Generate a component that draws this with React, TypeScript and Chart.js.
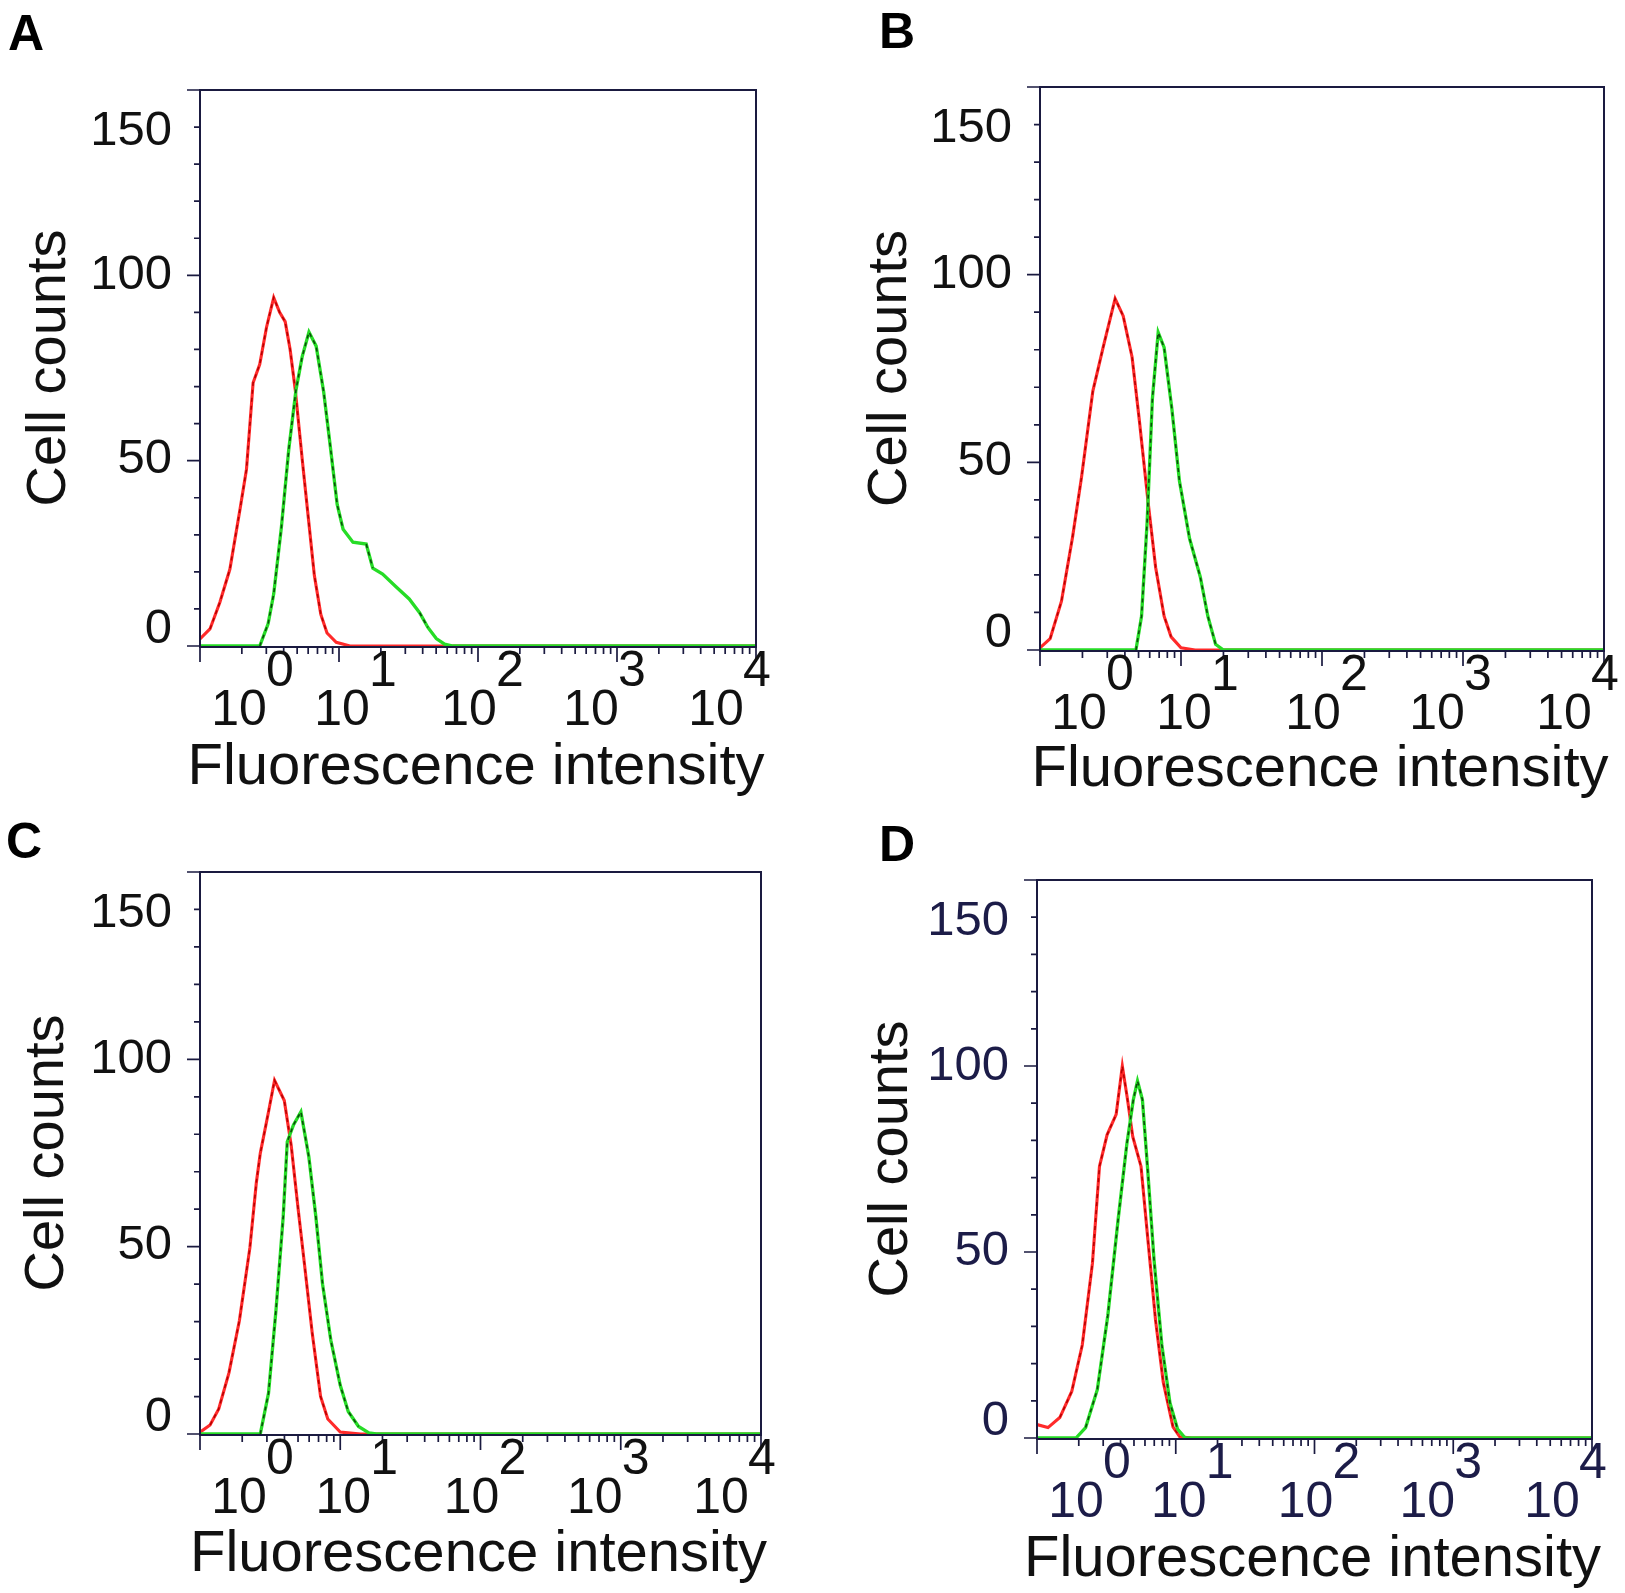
import React, { useEffect, useRef } from "react";
import { Chart, registerables } from "chart.js";

Chart.register(...registerables);

const FONT = "'Liberation Sans', Arial, Helvetica, sans-serif";

// ---------- axes ----------
const X_MIN = 1;
const X_MAX = 10000;
const X_DECADES = [1, 10, 100, 1000, 10000];
const X_EXPONENTS = ["0", "1", "2", "3", "4"];
const X_BASE = "10";
const X_MULTIPLIERS = [1, 2, 3, 4, 5, 6, 7, 8, 9];
const Y_MAX = 150;
const Y_STEP = 10;
const Y_LABELS = [0, 50, 100, 150];
const X_TITLE = "Fluorescence intensity";
const Y_TITLE = "Cell counts";

// ---------- data (fluorescence intensity, cell counts) ----------
const A_RED_X = [1, 1.18, 1.39, 1.64, 1.94, 2.16, 2.41, 2.69, 3.01, 3.39, 3.74, 4.1, 4.45, 4.85, 5.45, 6.0, 6.65, 7.4, 8.2, 9.55, 12, 10000];
const A_RED_Y = [1.9, 4.6, 11.8, 20.7, 36.9, 47.7, 71, 76, 86, 94, 90, 87.5, 80, 69, 50, 35, 19, 8.5, 3.5, 1, 0, 0];
const A_GREEN_X = [1, 2.69, 3.09, 3.39, 3.85, 4.35, 4.9, 5.43, 6.08, 6.85, 7.76, 8.63, 9.7, 10.7, 12.6, 15.7, 17.5, 20.6, 25.7, 32, 38, 43.6, 50.1, 57.5, 66, 10000];
const A_GREEN_Y = [0, 0, 6, 14, 32, 53, 69, 78, 84.7, 80.9, 68.5, 54.3, 38.2, 31.5, 28, 27.5, 21, 19.4, 16, 12.7, 9, 5, 2, 0.5, 0, 0];

const B_RED_X = [1, 1.18, 1.42, 1.7, 1.97, 2.37, 2.82, 3.41, 3.89, 4.5, 5.07, 5.82, 6.61, 7.59, 8.51, 10, 12.6, 10000];
const B_RED_Y = [0.6, 3, 13, 30, 46, 69, 81, 93.6, 89, 78, 61, 40, 22, 9, 3.5, 0.6, 0, 0];
const B_GREEN_X = [1, 4.79, 5.25, 5.75, 6.27, 6.89, 7.59, 8.63, 9.75, 11.5, 13.7, 15.5, 17.6, 20, 10000];
const B_GREEN_Y = [0, 0, 9, 34, 67, 84.6, 80.6, 64, 45, 29.7, 19.5, 9, 1.5, 0, 0];

const C_RED_X = [1, 1.18, 1.36, 1.61, 1.91, 2.27, 2.52, 2.69, 3.08, 3.4, 3.99, 4.47, 5.01, 5.57, 6.31, 7.24, 8.15, 10, 14, 10000];
const C_RED_Y = [0.5, 2.4, 6.7, 16.4, 30.3, 49.8, 67, 74.9, 86, 94.4, 89, 77, 60, 45, 27, 10, 4, 0.5, 0, 0];
const C_GREEN_X = [1, 2.69, 3.08, 3.48, 3.92, 4.19, 4.64, 5.24, 5.97, 6.7, 7.48, 8.57, 10, 11.4, 13.5, 16, 18, 10000];
const C_GREEN_Y = [0, 0, 10.9, 33, 58, 78, 82.5, 86, 74, 58, 40, 25, 13, 6, 2, 0.3, 0, 0];

const D_RED_X = [1, 1.2, 1.46, 1.78, 2.12, 2.51, 2.82, 3.2, 3.72, 4.12, 4.47, 4.9, 5.62, 6.31, 7.16, 8.13, 9.55, 10.7, 13, 10000];
const D_RED_Y = [3.6, 2.8, 5.5, 12.5, 25, 47, 73, 81.5, 87, 100, 91.5, 81, 73, 53, 31.5, 15, 3, 0.3, 0, 0];
const D_GREEN_X = [1, 1.91, 2.24, 2.72, 3.24, 3.85, 4.44, 4.95, 5.3, 5.75, 6.28, 6.97, 7.94, 9.08, 10.3, 11.7, 10000];
const D_GREEN_Y = [0, 0, 2.8, 13, 33, 59, 79, 91, 96, 91, 72, 48, 25, 9.5, 2.4, 0, 0];

// ---------- style ----------
const RED = "#ff2a2a";
const RED_DARK = "#b80000";
const GREEN = "#26dc26";
const GREEN_DARK = "#0b4d0b";
const AXIS_COLOR = "#1a1a40";
const TEXT_COLOR = "#111111";
// label crowding nudges (px) relative to their ticks, as placed in the original figure
const X_LABEL_NUDGE = [39, 3, -9, -26, -40];
const X_EXP_GAP = 41;
const Y_LABEL_NUDGE = [-17, -1, 0, 41];

type Geo = {
  left: number; top: number; width: number; height: number;
  L: number; R: number; T: number; B: number;
  yTitleX: number; xTitleDy: number;
  letterX: number; letterY: number;
};

type Panel = {
  letter: string;
  redX: number[]; redY: number[];
  greenX: number[]; greenY: number[];
  geo: Geo;
  tickColor: string;
};

const PANELS: Panel[] = [
  {
    letter: "A", redX: A_RED_X, redY: A_RED_Y, greenX: A_GREEN_X, greenY: A_GREEN_Y, tickColor: TEXT_COLOR,
    geo: { left: 0, top: 0, width: 812, height: 812, L: 200, R: 756, T: 90, B: 646, yTitleX: 50, xTitleDy: 122, letterX: 8, letterY: 8 },
  },
  {
    letter: "B", redX: B_RED_X, redY: B_RED_Y, greenX: B_GREEN_X, greenY: B_GREEN_Y, tickColor: TEXT_COLOR,
    geo: { left: 812, top: 0, width: 813, height: 812, L: 1040, R: 1604, T: 87, B: 650, yTitleX: 891, xTitleDy: 120, letterX: 879, letterY: 6 },
  },
  {
    letter: "C", redX: C_RED_X, redY: C_RED_Y, greenX: C_GREEN_X, greenY: C_GREEN_Y, tickColor: TEXT_COLOR,
    geo: { left: 0, top: 812, width: 812, height: 781, L: 200, R: 761, T: 872, B: 1434, yTitleX: 48, xTitleDy: 121, letterX: 6, letterY: 816 },
  },
  {
    letter: "D", redX: D_RED_X, redY: D_RED_Y, greenX: D_GREEN_X, greenY: D_GREEN_Y, tickColor: "#1c1c48",
    geo: { left: 812, top: 812, width: 813, height: 781, L: 1037, R: 1592, T: 880, B: 1438, yTitleX: 892, xTitleDy: 122, letterX: 879, letterY: 819 },
  },
];

const X_TICK_VALUES: number[] = [];
X_DECADES.forEach((d, i) => {
  if (i === X_DECADES.length - 1) X_TICK_VALUES.push(d);
  else X_MULTIPLIERS.forEach((m) => X_TICK_VALUES.push(m * d));
});

const toPoints = (xs: number[], ys: number[]) => xs.map((x, i) => ({ x, y: ys[i] }));
const steep = (c: any) => Math.abs(c.p1.y - c.p0.y) > 1.4 * Math.abs(c.p1.x - c.p0.x);

const histoAxes = {
  id: "histoAxes",
  afterDraw(chart: any, _args: any, opts: any) {
    const { ctx, chartArea } = chart;
    const { left, right, top, bottom } = chartArea;
    const xs = chart.scales.x;
    const ys = chart.scales.y;
    ctx.save();
    ctx.strokeStyle = AXIS_COLOR;
    ctx.lineWidth = 2;
    ctx.beginPath();
    ctx.moveTo(left, top);
    ctx.lineTo(right, top);
    ctx.lineTo(right, bottom + 1);
    ctx.lineTo(left, bottom + 1);
    ctx.closePath();
    ctx.stroke();

    ctx.lineWidth = 1.7;
    ctx.beginPath();
    for (const t of ys.ticks) {
      const py = ys.getPixelForValue(t.value);
      const len = Y_LABELS.includes(t.value) ? 13 : 6;
      ctx.moveTo(left - len, py);
      ctx.lineTo(left, py);
    }
    for (const t of xs.ticks) {
      const px = xs.getPixelForValue(t.value);
      const len = t.major ? 15 : 7;
      ctx.moveTo(px, bottom + 1);
      ctx.lineTo(px, bottom + 1 + len);
    }
    ctx.stroke();

    ctx.fillStyle = opts.labelColor;
    ctx.font = `49px ${FONT}`;
    ctx.textAlign = "right";
    ctx.textBaseline = "middle";
    Y_LABELS.forEach((v, k) => {
      ctx.fillText(String(v), left - 28, ys.getPixelForValue(v) + Y_LABEL_NUDGE[k]);
    });

    ctx.textAlign = "center";
    ctx.textBaseline = "alphabetic";
    ctx.font = `50px ${FONT}`;
    X_DECADES.forEach((d, k) => {
      const px = xs.getPixelForValue(d) + X_LABEL_NUDGE[k];
      ctx.fillText(X_BASE, px, bottom + 79);
      ctx.fillText(X_EXPONENTS[k], px + X_EXP_GAP, bottom + 40);
    });

    // x-axis title (drawn here so that it may run wider than the plot, as in the original)
    ctx.fillStyle = TEXT_COLOR;
    ctx.font = `58px ${FONT}`;
    ctx.textBaseline = "middle";
    ctx.fillText(X_TITLE, (left + right) / 2 - 2, bottom + opts.titleDy);
    ctx.restore();
  },
};

function lineSet(label: string, xs: number[], ys: number[], color: string, width: number) {
  return { label, data: toPoints(xs, ys), borderColor: color, borderWidth: width, pointRadius: 0, tension: 0, fill: false };
}

function dashSet(label: string, xs: number[], ys: number[], dark: string) {
  return {
    label,
    data: toPoints(xs, ys),
    borderColor: "rgba(0,0,0,0)",
    borderWidth: 1.6,
    borderDash: [4, 4],
    pointRadius: 0,
    tension: 0,
    fill: false,
    segment: { borderColor: (c: any) => (steep(c) ? dark : "rgba(0,0,0,0)") },
  };
}

function PanelChart({ panel }: { panel: Panel }) {
  const ref = useRef<HTMLCanvasElement | null>(null);
  const g = panel.geo;
  useEffect(() => {
    if (!ref.current) return;
    const xAxisH = g.top + g.height - g.B;
    const chart = new Chart(ref.current, {
      type: "line",
      data: {
        datasets: [
          dashSet("Stained (shade)", panel.greenX, panel.greenY, GREEN_DARK),
          lineSet("Stained", panel.greenX, panel.greenY, GREEN, 3.3),
          dashSet("Control (shade)", panel.redX, panel.redY, RED_DARK),
          lineSet("Control", panel.redX, panel.redY, RED, 3.1),
        ] as any,
      },
      options: {
        animation: false,
        responsive: false,
        events: [],
        layout: { padding: { left: 0, top: g.T - g.top, right: g.left + g.width - g.R, bottom: 0 } },
        plugins: {
          legend: { display: false },
          tooltip: { enabled: false },
          title: { display: false },
          histoAxes: { labelColor: panel.tickColor, titleDy: g.xTitleDy },
        } as any,
        scales: {
          x: {
            type: "logarithmic",
            min: X_MIN,
            max: X_MAX,
            grid: { display: false, drawTicks: false },
            border: { display: false },
            ticks: { display: false, autoSkip: false },
            afterBuildTicks: (s: any) => {
              s.ticks = X_TICK_VALUES.map((v) => ({ value: v, major: X_DECADES.includes(v) }));
            },
            afterFit: (s: any) => {
              s.height = xAxisH;
            },
            title: { display: false, text: X_TITLE },
          } as any,
          y: {
            type: "linear",
            min: 0,
            max: Y_MAX,
            grid: { display: false, drawTicks: false },
            border: { display: false },
            ticks: { stepSize: Y_STEP, autoSkip: false, display: false },
            afterFit: (s: any) => {
              s.width = g.L - g.left;
            },
            title: {
              display: true,
              text: Y_TITLE,
              color: TEXT_COLOR,
              font: { family: FONT, size: 56 },
              padding: { top: g.yTitleX - g.left - 56 * 0.6, bottom: 0 },
            },
          } as any,
        },
      },
      plugins: [histoAxes as any],
    });
    return () => chart.destroy();
  }, []);
  return (
    <>
      <canvas
        ref={ref}
        width={g.width}
        height={g.height}
        style={{ position: "absolute", left: g.left, top: g.top, width: g.width, height: g.height }}
      />
      <div
        style={{
          position: "absolute",
          left: g.letterX,
          top: g.letterY,
          font: `bold 50px ${FONT}`,
          lineHeight: "50px",
          color: "#000",
        }}
      >
        {panel.letter}
      </div>
    </>
  );
}

export default function App() {
  return (
    <div style={{ position: "absolute", left: 0, top: 0, width: 1625, height: 1593, background: "#fff", overflow: "hidden" }}>
      {PANELS.map((p) => (
        <PanelChart key={p.letter} panel={p} />
      ))}
    </div>
  );
}
